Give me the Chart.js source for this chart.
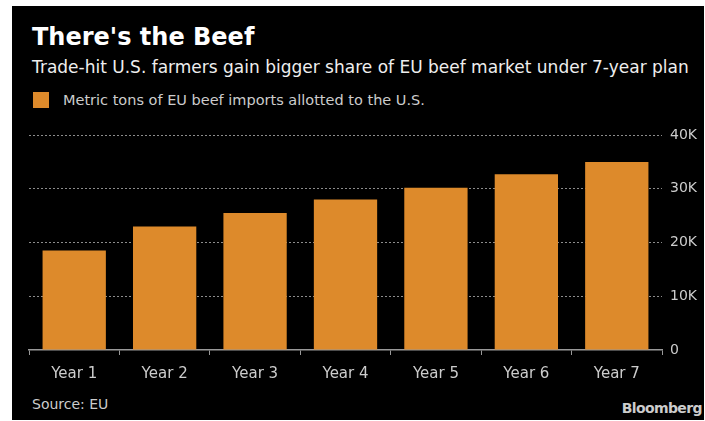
<html>
<head>
<title>There's the Beef</title>
<style>
  body { margin: 0; background: #fff; font-family: "DejaVu Sans", sans-serif; }
  #panel { position: absolute; left: 12px; top: 6px; width: 692px; height: 414px; background: #000; }
  .txt { position: absolute; white-space: nowrap; }
  #title { left: 20px; top: 17px; font-size: 24px; font-weight: bold; color: #fff; }
  #subtitle { left: 20px; top: 51px; font-size: 17px; color: #eee; }
  #legend { left: 21px; top: 86px; font-size: 14.5px; color: #ccc; }
  #legend span.box { display: inline-block; width: 16px; height: 16px; background: #dd8a2b; vertical-align: -3px; margin-right: 14px; }
  #source { left: 20px; top: 390px; font-size: 14px; color: #ccc; }
  #brand { right: 2px; top: 394px; font-size: 14px; font-weight: bold; color: #ccc; letter-spacing: -0.6px; }
  #wrap { position: absolute; left: 0px; top: 109px; width: 692px; height: 280px; }
</style>
</head>
<body>
<div id="panel">
  <div class="txt" id="title">There's the Beef</div>
  <div class="txt" id="subtitle">Trade-hit U.S. farmers gain bigger share of EU beef market under 7-year plan</div>
  <div class="txt" id="legend"><span class="box"></span>Metric tons of EU beef imports allotted to the U.S.</div>
  <div id="wrap"><canvas id="chart"></canvas></div>
  <div class="txt" id="source">Source: EU</div>
  <div class="txt" id="brand">Bloomberg</div>
</div>
<script src="https://cdn.jsdelivr.net/npm/chart.js"></script>
<script>
var years = ['Year 1', 'Year 2', 'Year 3', 'Year 4', 'Year 5', 'Year 6', 'Year 7'];
var tons = [18500, 23000, 25500, 28000, 30200, 32700, 35000];
var yTicks = [0, 10000, 20000, 30000, 40000];

var ctx = document.getElementById('chart').getContext('2d');
var chart = new Chart(ctx, {
    type: 'bar',
    data: {
        labels: years,
        datasets: [{
            label: 'Metric tons of EU beef imports allotted to the U.S.',
            data: tons,
            backgroundColor: '#dd8a2b',
            barPercentage: 0.7,
            categoryPercentage: 1.0
        }]
    },
    options: {
        responsive: true,
        maintainAspectRatio: false,
        animation: false,
        layout: { padding: { left: 17, top: 20, right: 0, bottom: 0 } },
        plugins: { legend: { display: false }, tooltip: { enabled: false } },
        scales: {
            x: {
                grid: { drawOnChartArea: false, tickLength: 5, tickColor: '#999' },
                border: { color: '#999', width: 1.5 },
                ticks: { color: '#ccc', padding: 10, font: { family: 'DejaVu Sans', size: 15 } },
                afterFit: function(scale) { scale.height = 45; }
            },
            y: {
                position: 'right',
                min: 0, max: 40000,
                afterBuildTicks: function(scale) { scale.ticks = yTicks.map(function(v) { return { value: v }; }); },
                grid: {
                    drawTicks: false,
                    color: function(c) { return c.tick && c.tick.value === 0 ? 'rgba(0,0,0,0)' : 'rgba(200,200,200,0.7)'; }
                },
                border: { display: false, dash: [2, 2] },
                ticks: {
                    color: '#ccc', padding: 8,
                    font: { family: 'DejaVu Sans', size: 14 },
                    callback: function(v) { return v === 0 ? '0' : (v / 1000) + 'K'; }
                },
                afterFit: function(scale) { scale.width = 42; }
            }
        }
    }
});
</script>
</body>
</html>
